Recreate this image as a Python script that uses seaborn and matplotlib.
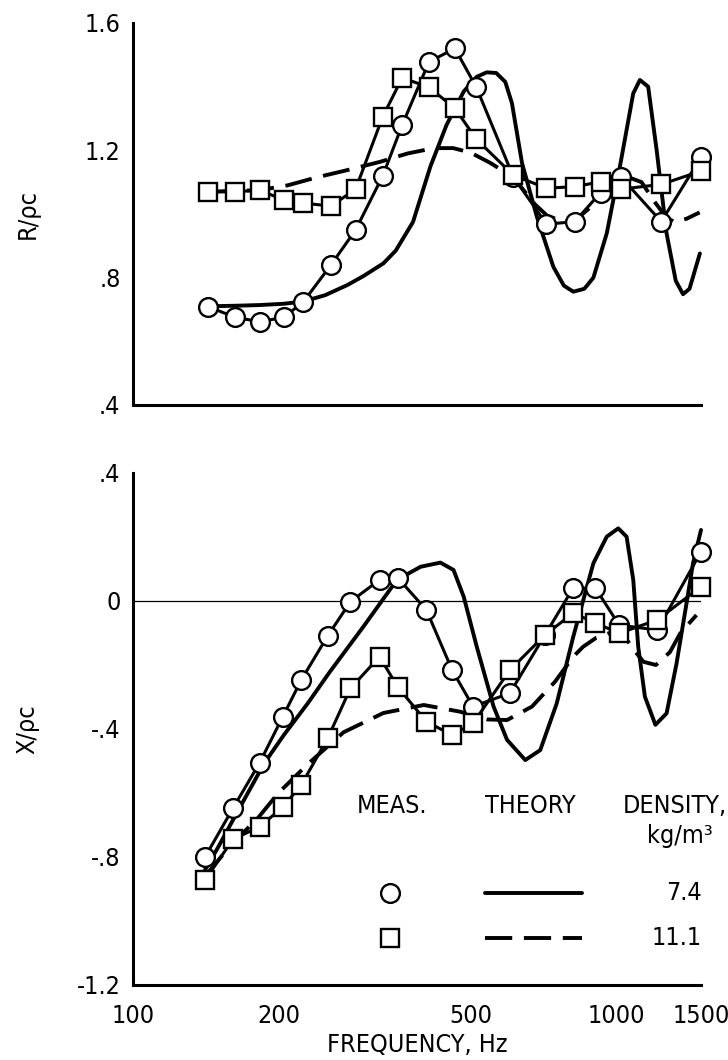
import matplotlib
matplotlib.use("Agg")
import matplotlib.pyplot as plt
from matplotlib.lines import Line2D
import seaborn as sns

# measured points, upper panel (R/rho c)
freq_r = [143, 163, 183, 205, 225, 257, 289, 329, 361, 410, 464, 514, 613, 718, 822, 929, 1023, 1241, 1500]
r_meas_74 = [0.709, 0.675, 0.662, 0.675, 0.723, 0.840, 0.950, 1.120, 1.280, 1.478, 1.520, 1.398,
             1.117, 0.968, 0.976, 1.067, 1.117, 0.976, 1.178]
r_meas_111 = [1.070, 1.070, 1.075, 1.044, 1.034, 1.025, 1.078, 1.306, 1.428, 1.398, 1.332, 1.235,
              1.122, 1.081, 1.086, 1.101, 1.078, 1.093, 1.135]

# theory, upper panel
freq_th_r74 = [143, 165, 183, 205, 225, 250, 278, 300, 330, 350, 380, 413, 446, 484, 515, 540, 565,
               590, 609, 639, 686, 742, 780, 816, 860, 898, 957, 1019, 1086, 1121, 1166, 1214, 1273,
               1330, 1377, 1420, 1492]
r_th_74 = [0.710, 0.712, 0.714, 0.718, 0.725, 0.745, 0.777, 0.805, 0.845, 0.885, 0.975, 1.150, 1.280,
           1.385, 1.431, 1.445, 1.443, 1.415, 1.348, 1.160, 0.991, 0.834, 0.775, 0.756, 0.765, 0.800,
           0.939, 1.149, 1.379, 1.421, 1.400, 1.201, 0.939, 0.790, 0.748, 0.765, 0.876]
freq_th_r111 = [143, 183, 209, 240, 278, 325, 370, 420, 460, 500, 550, 613, 680, 720, 777, 830, 884,
                930, 1000, 1050, 1130, 1200, 1270, 1320, 1400, 1490]
r_th_111 = [1.070, 1.075, 1.090, 1.115, 1.138, 1.164, 1.190, 1.207, 1.207, 1.193, 1.160, 1.115, 1.030,
            0.995, 0.976, 0.985, 1.020, 1.060, 1.100, 1.118, 1.100, 1.040, 0.990, 0.975, 0.985, 1.005]

# measured points, lower panel (X/rho c)
freq_x = [141, 161, 183, 204, 223, 253, 282, 324, 353, 405, 458, 506, 603, 713, 815, 907, 1015, 1218, 1500]
x_meas_74 = [-0.800, -0.648, -0.505, -0.363, -0.247, -0.109, -0.002, 0.066, 0.073, -0.028, -0.216,
             -0.330, -0.288, -0.106, 0.040, 0.040, -0.075, -0.091, 0.154]
x_meas_111 = [-0.872, -0.745, -0.705, -0.645, -0.575, -0.429, -0.273, -0.174, -0.268, -0.377, -0.419,
              -0.382, -0.216, -0.106, -0.038, -0.068, -0.101, -0.059, 0.045]

# theory, lower panel
freq_th_x74 = [141, 150, 163, 187, 205, 230, 256, 300, 352, 394, 433, 461, 484, 515, 558, 595, 649,
               697, 754, 816, 898, 957, 1011, 1052, 1086, 1112, 1148, 1207, 1273, 1335, 1400, 1444, 1500]
x_th_74 = [-0.84, -0.77, -0.67, -0.507, -0.42, -0.32, -0.22, -0.08, 0.066, 0.107, 0.120, 0.097, 0.013,
           -0.143, -0.330, -0.434, -0.497, -0.466, -0.320, -0.111, 0.118, 0.201, 0.227, 0.201, 0.066,
           -0.143, -0.299, -0.387, -0.351, -0.195, -0.007, 0.118, 0.222]
freq_th_x111 = [141, 160, 181, 200, 230, 273, 330, 400, 476, 540, 595, 670, 748, 816, 855, 910, 970,
                1030, 1086, 1140, 1210, 1293, 1360, 1468]
x_th_111 = [-0.86, -0.76, -0.68, -0.60, -0.51, -0.41, -0.35, -0.325, -0.346, -0.370, -0.372, -0.330,
            -0.252, -0.174, -0.143, -0.115, -0.100, -0.100, -0.150, -0.190, -0.200, -0.160, -0.100, -0.044]

x_ticks = [100, 200, 300, 400, 500, 600, 700, 800, 900, 1000, 1500]
x_ticklabels = ["100", "200", "", "", "500", "", "", "", "", "1000", "1500"]
r_ticks = [0.4, 0.8, 1.2, 1.6]
r_ticklabels = [".4", ".8", "1.2", "1.6"]
x_yticks = [-1.2, -0.8, -0.4, 0.0, 0.4]
x_yticklabels = ["-1.2", "-.8", "-.4", "0", ".4"]
densities = ["7.4", "11.1"]

sns.set_style("white")
plt.rcParams["font.family"] = ["DejaVu Sans"]
plt.rcParams["font.stretch"] = "condensed"
for k in ("text.color", "axes.labelcolor", "xtick.color", "ytick.color"):
    plt.rcParams[k] = "black"
FS = 18

fig = plt.figure(figsize=(7.28, 10.6), dpi=100)
ax_r = fig.add_axes([133 / 728, 1 - 405 / 1060, 568 / 728, 382 / 1060])
ax_x = fig.add_axes([133 / 728, 1 - 985 / 1060, 568 / 728, 512 / 1060])

dash = (0, (7, 3))
mk = dict(markersize=13.5, markerfacecolor="white", markeredgecolor="black", markeredgewidth=1.7)


def meas(ax, f, v, marker):
    sns.lineplot(x=f, y=v, ax=ax, color="black", lw=2.2, marker=marker, estimator=None,
                 sort=False, clip_on=False, zorder=4, **mk)


def theory(ax, f, v, ls):
    sns.lineplot(x=f, y=v, ax=ax, color="black", lw=2.8, linestyle=ls, estimator=None,
                 sort=False, clip_on=False, zorder=3)


theory(ax_r, freq_th_r74, r_th_74, "-")
theory(ax_r, freq_th_r111, r_th_111, dash)
meas(ax_r, freq_r, r_meas_74, "o")
meas(ax_r, freq_r, r_meas_111, "s")

ax_x.axhline(0, color="black", lw=0.9, zorder=1)
theory(ax_x, freq_th_x74, x_th_74, "-")
theory(ax_x, freq_th_x111, x_th_111, dash)
meas(ax_x, freq_x, x_meas_74, "o")
meas(ax_x, freq_x, x_meas_111, "s")

tick_len = [0, 18, 11, 18, 11, 18, 11, 18, 11, 23, 11]
for ax in (ax_r, ax_x):
    ax.set_xscale("log")
    ax.set_xlim(100, 1500)
    ax.xaxis.set_minor_locator(matplotlib.ticker.NullLocator())
    sns.despine(ax=ax)
    for s in ("left", "bottom"):
        ax.spines[s].set_linewidth(2.2)
        ax.spines[s].set_color("black")
    ax.tick_params(axis="both", which="major", direction="in", width=2, color="black",
                   labelsize=FS, labelcolor="black")
    ax.tick_params(axis="y", length=22, pad=9)
    ax.tick_params(axis="x", pad=14)
    ax.grid(False)

ax_r.set_ylim(0.4, 1.6)
ax_r.set_yticks(r_ticks, r_ticklabels)
ax_r.set_xticks(x_ticks, [""] * len(x_ticks))
ax_x.set_ylim(-1.2, 0.4)
ax_x.set_yticks(x_yticks, x_yticklabels)
ax_x.set_xticks(x_ticks, x_ticklabels)

for ax in (ax_r, ax_x):
    for t, L in zip(ax.xaxis.get_major_ticks(), tick_len):
        t.tick1line.set_markersize(L)

ax_r.set_xlabel("")
ax_r.set_ylabel("R/ρc", fontsize=FS)
ax_x.set_ylabel("X/ρc", fontsize=FS)
ax_r.yaxis.set_label_coords(-0.165, 0.5)
ax_x.yaxis.set_label_coords(-0.165, 0.5)
ax_x.set_xlabel("FREQUENCY, Hz", fontsize=FS, labelpad=3)


# legend table
def fx(px):
    return px / 728


def fy(py):
    return 1 - py / 1060


fig.text(fx(392), fy(806), "MEAS.", ha="center", va="center", fontsize=FS)
fig.text(fx(530), fy(806), "THEORY", ha="center", va="center", fontsize=FS)
fig.text(fx(727), fy(806), "DENSITY,", ha="right", va="center", fontsize=FS)
fig.text(fx(713), fy(836), "kg/m³", ha="right", va="center", fontsize=FS)
for row, (m, ls, d) in enumerate(zip(["o", "s"], ["-", dash], densities)):
    yy = fy(893 + 45 * row)
    fig.add_artist(Line2D([fx(390)], [yy], marker=m, linestyle="none", **mk))
    fig.add_artist(Line2D([fx(485), fx(582)], [yy, yy], color="black", lw=2.8, linestyle=ls))
    fig.text(fx(702), yy, d, ha="right", va="center", fontsize=FS)

fig.savefig("out.png", dpi=100)
